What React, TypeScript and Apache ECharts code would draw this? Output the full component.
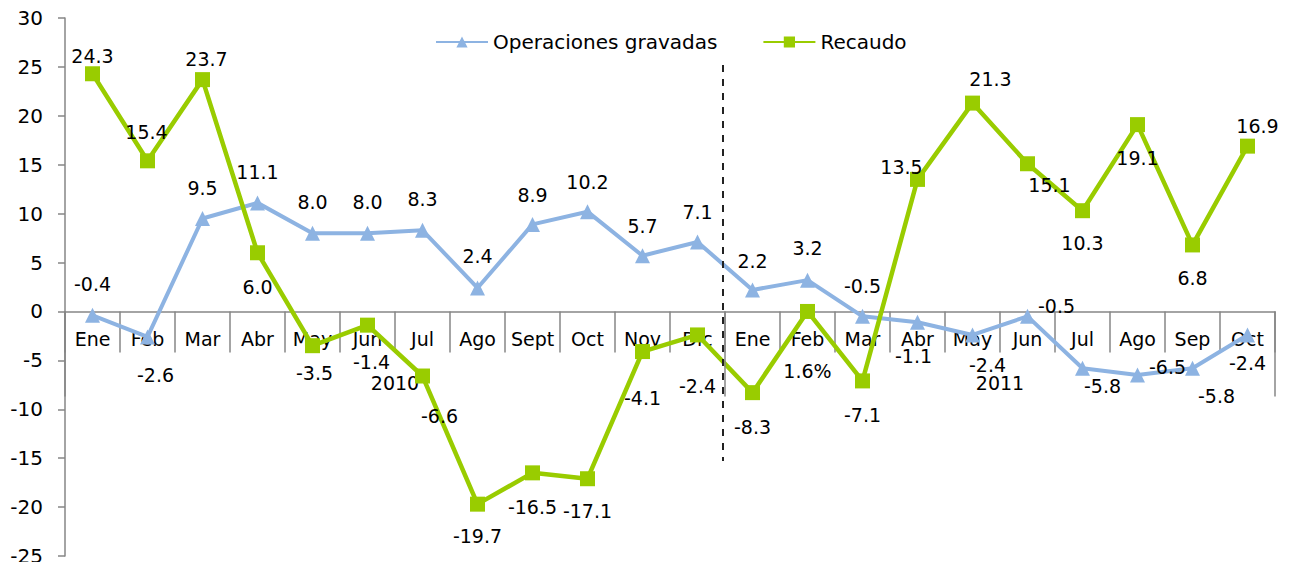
import React, { useEffect, useRef } from "react";
import * as echarts from "echarts";

// ---- data ----
const categories = [
  "Ene", "Feb", "Mar", "Abr", "May", "Jun", "Jul", "Ago", "Sept", "Oct", "Nov", "Dic",
  "Ene", "Feb", "Mar", "Abr", "May", "Jun", "Jul", "Ago", "Sep", "Oct",
];
const years = ["2010", "2011"];
const monthsPerYear = [12, 10];

const operacionesGravadas = [
  -0.4, -2.6, 9.5, 11.1, 8.0, 8.0, 8.3, 2.4, 8.9, 10.2, 5.7, 7.1,
  2.2, 3.2, -0.5, -1.1, -2.4, -0.5, -5.8, -6.5, -5.8, -2.4,
];
const recaudo = [
  24.3, 15.4, 23.7, 6.0, -3.5, -1.4, -6.6, -19.7, -16.5, -17.1, -4.1, -2.4,
  -8.3, 0.0, -7.1, 13.5, 21.3, 15.1, 10.3, 19.1, 6.8, 16.9,
];
const recaudoLabelOverrides: Record<number, string> = { 13: "1.6%" };

const yTicks = { min: -25, max: 30, interval: 5 };

// ---- label placement (pixel offsets from the point) ----
const opLabelOffsets: [number, number][] = [
  [0, -31], [8, 38], [0, -31], [0, -31], [0, -31], [0, -31], [0, -31], [0, -32], [0, -29], [0, -30], [0, -30], [0, -30],
  [0, -29], [0, -32], [0, -30], [-4, 34], [15, 30], [29, -10], [20, 18], [30, -8], [24, 28], [0, 28],
];
const recLabelOffsets: [number, number][] = [
  [0, -18], [-1, -29], [4, -21], [0, 34], [2, 27], [4, 37], [17, 40], [0, 32], [0, 34], [0, 32], [0, 46], [0, 51],
  [0, 34], [0, 60], [0, 34], [-16, -12], [18, -24], [22, 21], [0, 32], [0, 33], [0, 33], [10, -20],
];

const FONT = "DejaVu Sans";
const BLUE = "#8DB3E2";
const GREEN = "#99CC00";
const AXIS = "#868686";

const CHART_W = 1276;
const CHART_H = 554;
const GRID = { left: 57, right: 9, top: 10, bottom: 6 };

export default function App() {
  const ref = useRef<HTMLDivElement>(null);

  useEffect(() => {
    if (!ref.current) return;
    const chart = echarts.init(ref.current, null, { renderer: "svg" });

    // year group boundaries / centers on the helper value axis
    const boundaries: number[] = [0];
    const centers: number[] = [];
    monthsPerYear.forEach((n) => {
      const start = boundaries[boundaries.length - 1];
      centers.push(start + n / 2);
      boundaries.push(start + n);
    });
    const total = boundaries[boundaries.length - 1];

    // category axis sits on the zero line
    const plotH = CHART_H - GRID.top - GRID.bottom;
    const zeroOffset = -plotH * (0 - yTicks.min) / (yTicks.max - yTicks.min);

    const mkData = (vals: number[], offs: [number, number][], overrides: Record<number, string>) =>
      vals.map((v, i) => ({
        value: v,
        label: {
          offset: offs[i],
          formatter: overrides[i] !== undefined ? overrides[i] : v.toFixed(1),
        },
      }));

    const labelBase = {
      show: true,
      position: "inside",
      fontFamily: FONT,
      fontSize: 19,
      color: "#000",
      textBorderWidth: 0,
    };

    chart.setOption({
      animation: false,
      textStyle: { fontFamily: FONT },
      grid: { ...GRID, containLabel: false, outerBoundsMode: "none" },
      legend: {
        top: 19,
        left: 422,
        itemWidth: 52,
        itemHeight: 14,
        itemGap: 45,
        textStyle: { fontFamily: FONT, fontSize: 20, color: "#000" },
        data: ["Operaciones gravadas", "Recaudo"],
      },
      xAxis: [
        {
          type: "category",
          data: categories,
          boundaryGap: true,
          position: "bottom",
          offset: zeroOffset,
          axisLine: { onZero: false, lineStyle: { color: AXIS, width: 1.5 } },
          axisTick: { show: true, interval: 0, length: 41, lineStyle: { color: AXIS, width: 1.5 } },
          axisLabel: {
            interval: 0,
            margin: 18,
            lineHeight: 20,
            fontFamily: FONT,
            fontSize: 19,
            color: "#000",
          },
          splitLine: { show: false },
        },
        {
          type: "value",
          min: 0,
          max: total,
          show: false,
        },
      ],
      yAxis: {
        type: "value",
        min: yTicks.min,
        max: yTicks.max,
        interval: yTicks.interval,
        axisLine: { show: true, lineStyle: { color: AXIS, width: 1.5 } },
        axisTick: { show: true, length: 7, lineStyle: { color: AXIS, width: 1.5 } },
        axisLabel: { margin: 22, fontFamily: FONT, fontSize: 20, color: "#000" },
        splitLine: { show: false },
      },
      series: [
        {
          name: "Operaciones gravadas",
          type: "line",
          data: mkData(operacionesGravadas, opLabelOffsets, {}),
          symbol: "triangle",
          symbolSize: 15,
          lineStyle: { color: BLUE, width: 4 },
          itemStyle: { color: BLUE },
          label: labelBase,
          z: 3,
        },
        {
          name: "Recaudo",
          type: "line",
          data: mkData(recaudo, recLabelOffsets, recaudoLabelOverrides),
          symbol: "rect",
          symbolSize: 15,
          lineStyle: { color: GREEN, width: 4.5 },
          itemStyle: { color: GREEN },
          label: labelBase,
          z: 4,
        },
        {
          name: "years",
          type: "scatter",
          xAxisIndex: 1,
          yAxisIndex: 0,
          symbolSize: 0,
          silent: true,
          itemStyle: { color: "#000", opacity: 1 },
          data: centers.map((c, i) => ({ value: [c, -7.3], name: years[i] })),
          label: {
            show: true,
            position: "inside",
            formatter: (p: any) => p.name,
            fontFamily: FONT,
            fontSize: 19,
            color: "#000",
            opacity: 1,
            textBorderWidth: 0,
          },
          markLine: {
            silent: true,
            symbol: "none",
            label: { show: false },
            animation: false,
            data: [
              ...boundaries.map((b) => [
                { coord: [b, 0], lineStyle: { color: AXIS, width: 1.5, type: "solid" } },
                { coord: [b, -8.7] },
              ]),
              [
                { coord: [boundaries[1] - 0.04, 25.2], lineStyle: { color: "#222", width: 2, type: [7, 7] } },
                { coord: [boundaries[1] - 0.04, -15.3] },
              ],
            ],
          },
          z: 2,
        },
      ],
    });

    return () => chart.dispose();
  }, []);

  return <div ref={ref} style={{ width: CHART_W, height: CHART_H }} />;
}
